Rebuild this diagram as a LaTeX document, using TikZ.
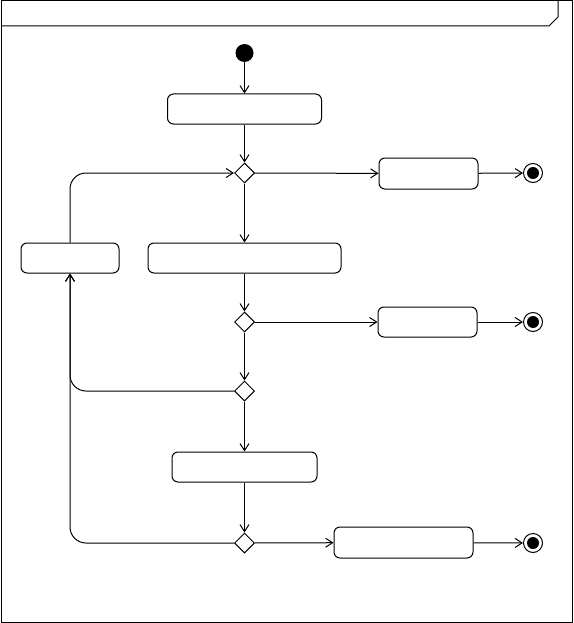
\documentclass[tikz,border=0pt]{standalone}
\usetikzlibrary{shapes.geometric,arrows.meta}
\begin{document}
\begin{tikzpicture}[x=1pt,y=-1pt,line width=1pt,
  >={Straight Barb[length=7pt,width=9pt]},
  act/.style={draw,rounded corners=6pt,minimum height=30pt,inner sep=0pt,fill=white},
  dec/.style={draw,diamond,minimum width=20pt,minimum height=20pt,inner sep=0pt,fill=white},
  initial/.style={circle,fill=black,minimum size=18pt,inner sep=0pt},
  final/.style={circle,draw,fill=white,minimum size=19pt,inner sep=0pt},
  finaldot/.style={fill=black},
  conn/.style={->}]
\useasboundingbox (0,0) rectangle (573,623);
% frame
\draw (1,1) rectangle (572,622);
\draw (1,26) -- (549,26) -- (558,17) -- (558,1);
% nodes
\node[initial] (init) at (244.5,53) {};
\node[act,minimum width=154pt] (a1) at (244.5,109) {};
\node[dec] (d1) at (244.5,173) {};
\node[act,minimum width=99pt,minimum height=31pt] (r1) at (428.5,173.5) {};
\node[final] (f1) at (533,173) {};
\node[act,minimum width=98pt] (aL) at (70,258) {};
\node[act,minimum width=193pt] (a2) at (244.5,258) {};
\node[dec] (d2) at (244.5,322) {};
\node[act,minimum width=99pt] (r2) at (427.5,322) {};
\node[final] (f2) at (533,322) {};
\node[dec] (d3) at (244.5,391) {};
\node[act,minimum width=145pt] (a3) at (244.5,467) {};
\node[dec] (d4) at (244.5,543) {};
\node[act,minimum width=139pt,minimum height=31pt] (r3) at (403.5,542.5) {};
\node[final] (f3) at (533,543) {};
\fill[finaldot] (f1.center) circle[radius=6pt];
\fill[finaldot] (f2.center) circle[radius=6pt];
\fill[finaldot] (f3.center) circle[radius=6pt];
% connectors
\draw[conn] (init) -- (a1);
\draw[conn] (a1) -- (d1);
\draw[conn] (d1) -- (r1);
\draw[conn] (r1) -- (f1);
\draw[conn] (d1) -- (a2);
\draw[conn,rounded corners=16pt] (aL.north) |- (d1.west);
\draw[conn] (a2) -- (d2);
\draw[conn] (d2) -- (r2);
\draw[conn] (r2) -- (f2);
\draw[conn] (d2) -- (d3);
\draw[conn,rounded corners=16pt] (d3.west) -| (aL.south);
\draw[conn] (d3) -- (a3);
\draw[conn] (a3) -- (d4);
\draw[conn] (d4) -- (r3);
\draw[conn] (r3) -- (f3);
\draw[conn,rounded corners=16pt] (d4.west) -| (aL.south);
\end{tikzpicture}
\end{document}
